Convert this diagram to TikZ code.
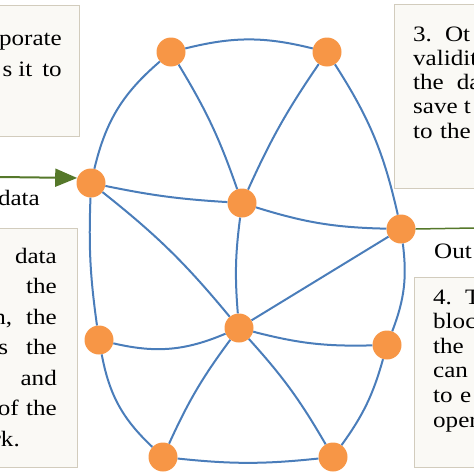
\documentclass[tikz,border=0pt]{standalone}
\usepackage{fontspec}
\setmainfont{Liberation Serif}[FakeStretch=1.14]
\usetikzlibrary{arrows.meta}
\definecolor{mesh-blue}{HTML}{4A7DBA}
\definecolor{peer-orange}{HTML}{F79646}
\definecolor{flow-green}{HTML}{55782A}
\definecolor{note-bg}{HTML}{FAF9F5}
\definecolor{note-line}{HTML}{D2CCBD}

\begin{document}
\begin{tikzpicture}[x=1pt, y=-1pt,
      every node/.style={font=\fontsize{22}{25}\selectfont},
      peer/.style={circle, fill=peer-orange, minimum size=29pt, inner sep=0pt},
      link/.style={draw=mesh-blue, line width=2pt},
      notebox/.style={draw=note-line, line width=1.4pt, fill=note-bg},
      notetext/.style={inner sep=0pt, text width=200pt}]
    \useasboundingbox (0,0) rectangle (474,474);
    % note boxes, cut by the frame
    \node[notebox, anchor=north east, minimum width=140pt, minimum height=131pt]
          (boxTL) at (80,5) {};
    \node[notebox, anchor=north east, minimum width=140pt, minimum height=239pt]
          (boxBL) at (78,228) {};
    \node[notebox, anchor=north west, minimum width=140pt, minimum height=184pt]
          (boxTR) at (394,4) {};
    \node[notebox, anchor=north west, minimum width=120pt, minimum height=190pt]
          (boxBR) at (414,277) {};
    \node[notetext, align=right, anchor=base east,
          font=\fontsize{22}{31}\selectfont]
          (txtTL) at (62,45) {porate\\ s\hspace{6pt}it\hspace{10pt}to};
    \node[notetext, align=right, anchor=base east,
          font=\fontsize{22}{30.5}\selectfont]
          (txtBL) at (57,263) {data\\ the\\ n,\hspace{14pt}the\\ s\hspace{18pt}the\\
          and\\ of the\\ rk.\makebox[37pt]{}};
    \node[notetext, align=left, anchor=base west,
          font=\fontsize{22}{24.3}\selectfont]
          (txtTR) at (413,41) {3.\hspace{13pt}Ot\\ validit\\ the\hspace{13pt}da\\
          save\hspace{6pt}t\\ to the};
    \node[notetext, align=left, anchor=base west,
          font=\fontsize{22}{24.6}\selectfont]
          (txtBR) at (433,304) {4.\hspace{13pt}T\\ bloc\\ the\\ can\\ to e\\ oper};
    % peers
    \node[peer] (pA) at (91,183) {};
    \node[peer] (pB) at (171,52) {};
    \node[peer] (pC) at (327,52) {};
    \node[peer] (pD) at (242,203) {};
    \node[peer] (pE) at (401,229) {};
    \node[peer] (pF) at (99,340) {};
    \node[peer] (pG) at (239,328) {};
    \node[peer] (pH) at (387,345) {};
    \node[peer] (pI) at (163,457) {};
    \node[peer] (pJ) at (333,457) {};
    \path[link] (pB) to[bend left=14] (pC);
    \path[link] (pA) to[bend left=18] (pB);
    \path[link] (pB) to[bend left=6] (pD);
    \path[link] (pC) to[bend right=5] (pD);
    \path[link] (pC) to[bend left=10] (pE);
    \path[link] (pA) to[bend right=4] (pD);
    \path[link] (pA) to[bend left=6] (pG);
    \path[link] (pA) to[bend right=5] (pF);
    \path[link] (pD) to[bend right=8] (pE);
    \path[link] (pD) to[bend right=6] (pG);
    \path[link] (pE) -- (pG);
    \path[link] (pE) to[bend left=14] (pH);
    \path[link] (pF) to[bend right=18] (pG);
    \path[link] (pG) to[bend right=8] (pH);
    \path[link] (pG) to[bend right=6] (pI);
    \path[link] (pG) to[bend left=6] (pJ);
    \path[link] (pF) to[bend right=18] (pI);
    \path[link] (pI) to[bend right=6] (pJ);
    \path[link] (pH) to[bend left=10] (pJ);
    % input and output
    \coordinate (inEnd) at (0,177);
    \coordinate (outEnd) at (474,228);
    \draw[flow-green, line width=2pt, -{Triangle[length=22pt, width=18pt]}]
          (inEnd) -- (pA.160);
    \draw[flow-green, line width=1.5pt] (pE.east) -- (outEnd);
    \node[anchor=base east, inner sep=0pt] (lblIn) at (40,205) {data};
    \node[anchor=base west, inner sep=0pt] (lblOut) at (434,258) {Out};
  \end{tikzpicture}
\end{document}
